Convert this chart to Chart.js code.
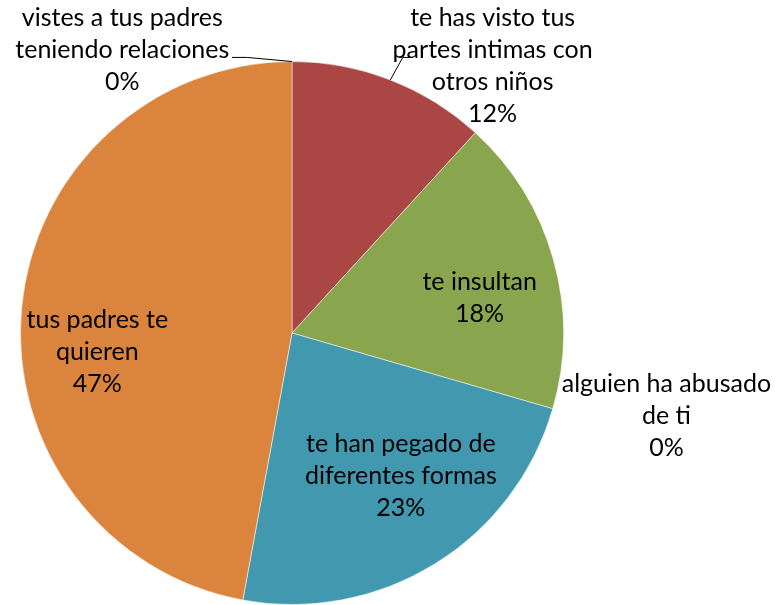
<!DOCTYPE html>
<html>
<head>
<meta charset="utf-8">
<script src="https://cdn.jsdelivr.net/npm/chart.js@4"></script>
<style>
  html, body { margin: 0; padding: 0; background: #fff; }
  #wrap { width: 777px; height: 605px; position: relative; }
</style>
</head>
<body>
<div id="wrap"><canvas id="grafico"></canvas></div>
<script>
// datos del gráfico (orden de Excel, desde arriba en sentido horario)
const categorias = [
    ['vistes a tus padres', 'teniendo relaciones'],
    ['te has visto tus', 'partes intimas con', 'otros niños'],
    ['te insultan'],
    ['alguien ha abusado', 'de ti'],
    ['te han pegado de', 'diferentes formas'],
    ['tus padres te', 'quieren']
];
const valores = [0, 11.8, 17.7, 0, 23.4, 47.1];
const colores = ['#4572A7', '#AA4643', '#89A54E', '#71588F', '#4198AF', '#DB843D'];

// posición de cada etiqueta respecto al centro, en fracciones del radio
const posEtiquetas = [
    { dx: -0.625, dy: -1.044, guia: { codo: [-0.165, -1.015], cola: [-0.221, -1.015] } },
    { dx: 0.739, dy: -0.982, guia: { codo: [0.408, -1.015], cola: [0.445, -1.015] } },
    { dx: 0.691, dy: -0.129 },
    { dx: 1.379, dy: 0.305 },
    { dx: 0.401, dy: 0.526 },
    { dx: -0.717, dy: 0.070 }
];

const fuente = '25px Lato, "Liberation Sans", sans-serif';
const altoLinea = 32;

const etiquetasPlugin = {
    id: 'etiquetas',
    afterDatasetsDraw(chart) {
        const ctx = chart.ctx;
        const meta = chart.getDatasetMeta(0);
        const total = valores.reduce((a, b) => a + b, 0);
        ctx.save();
        ctx.font = fuente;
        ctx.fillStyle = '#000';
        ctx.textAlign = 'center';
        ctx.textBaseline = 'middle';
        meta.data.forEach((arc, i) => {
            const R = arc.outerRadius;
            const cx = arc.x, cy = arc.y;
            const p = posEtiquetas[i];
            const pct = Math.round(valores[i] / total * 100) + '%';
            const lineas = categorias[i].concat([pct]);
            const bx = cx + p.dx * R;
            const by = cy + p.dy * R;
            const y0 = by - (lineas.length - 1) * altoLinea / 2;
            lineas.forEach((t, k) => ctx.fillText(t, bx, y0 + k * altoLinea));

            // línea guía para las etiquetas fuera del pastel
            if (p.guia) {
                const mid = (arc.startAngle + arc.endAngle) / 2;
                const ex = cx + Math.cos(mid) * R;
                const ey = cy + Math.sin(mid) * R;
                ctx.beginPath();
                ctx.strokeStyle = '#000';
                ctx.lineWidth = 1;
                ctx.moveTo(cx + p.guia.cola[0] * R, cy + p.guia.cola[1] * R);
                ctx.lineTo(cx + p.guia.codo[0] * R, cy + p.guia.codo[1] * R);
                ctx.lineTo(ex, ey);
                ctx.stroke();
            }
        });
        ctx.restore();
    }
};

const ctx = document.getElementById('grafico').getContext('2d');
new Chart(ctx, {
    type: 'pie',
    data: {
        labels: categorias.map(c => c.join(' ')),
        datasets: [{
            data: valores,
            backgroundColor: colores,
            borderColor: 'rgba(255,255,255,0.5)',
            borderWidth: 1
        }]
    },
    options: {
        responsive: true,
        maintainAspectRatio: false,
        animation: false,
        layout: { padding: { left: 20, right: 213, top: 61, bottom: 0 } },
        plugins: {
            legend: { display: false },
            tooltip: { enabled: false },
            title: { display: false }
        }
    },
    plugins: [etiquetasPlugin]
});
</script>
</body>
</html>
